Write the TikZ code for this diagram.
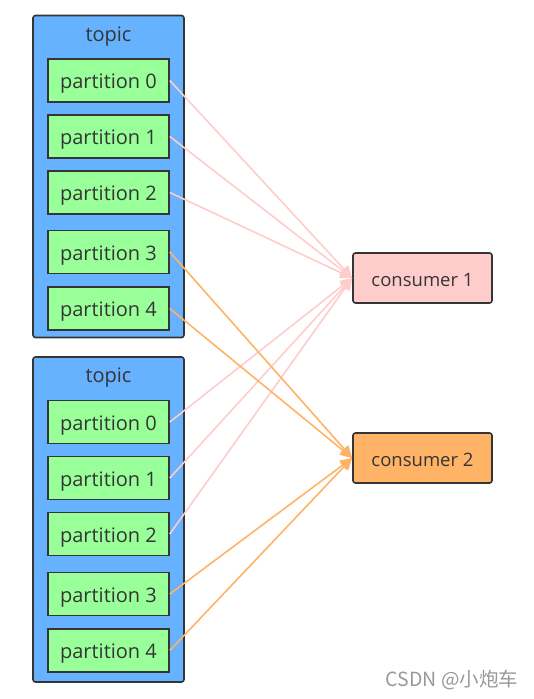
\documentclass[tikz,border=0pt]{standalone}
\usepackage{fontspec}
\setmainfont{Open Sans}
\newfontfamily\cjk{Noto Sans CJK SC}
\usetikzlibrary{arrows.meta}
\definecolor{topicblue}{HTML}{66B2FF}
\definecolor{partgreen}{HTML}{99FF99}
\definecolor{conspink}{HTML}{FFCCCC}
\definecolor{consorange}{HTML}{FFB366}
\definecolor{edgegray}{HTML}{353535}
\begin{document}
\begin{tikzpicture}[x=1pt,y=-1pt,
				every node/.style={text=edgegray,inner sep=0pt},
				topicbox/.style={draw=edgegray,line width=1.6pt,fill=topicblue,rounded corners=2.5pt,minimum width=151pt},
				titletext/.style={font=\fontsize{20}{24}\selectfont,yshift=-3pt},
				partbox/.style={draw=edgegray,line width=1.6pt,fill=partgreen,minimum width=121pt,minimum height=43pt,text height=20pt,text depth=4pt,font=\fontsize{20}{24}\selectfont},
				consbox/.style={draw=edgegray,line width=1.6pt,rounded corners=2.5pt,minimum width=139pt,minimum height=50pt,text height=21pt,text depth=4pt,font=\fontsize{18.5}{22}\selectfont},
				pinkline/.style={draw=conspink,line width=1.6pt,-{Triangle[length=12pt,width=11pt]}},
				orangeline/.style={draw=consorange,line width=1.6pt,-{Triangle[length=12pt,width=11pt]}}]
\useasboundingbox (0,0) rectangle (534,699);
% first topic
\node[topicbox,minimum height=322pt] (t1) at (108.5,176.5) {};
\node[titletext] (t1title) at (108.5,34) {topic};
\node[partbox] (t1p0) at (108.5,80.5) {partition 0};
\node[partbox] (t1p1) at (108.5,136.5) {partition 1};
\node[partbox] (t1p2) at (108.5,192.5) {partition 2};
\node[partbox] (t1p3) at (108.5,252) {partition 3};
\node[partbox] (t1p4) at (108.5,308.5) {partition 4};
% second topic
\node[topicbox,minimum height=325pt] (t2) at (108.5,519.5) {};
\node[titletext] (t2title) at (108.5,375) {topic};
\node[partbox] (t2p0) at (108.5,422) {partition 0};
\node[partbox] (t2p1) at (108.5,478) {partition 1};
\node[partbox] (t2p2) at (108.5,534) {partition 2};
\node[partbox] (t2p3) at (108.5,594) {partition 3};
\node[partbox] (t2p4) at (108.5,650.5) {partition 4};
% consumers
\node[consbox,fill=conspink] (c1) at (422.5,278) {consumer 1};
\node[consbox,fill=consorange] (c2) at (422.5,458) {consumer 2};
% connectors
\draw[pinkline] (t1p0.east) -- (c1.west);
\draw[pinkline] (t1p1.east) -- (c1.west);
\draw[pinkline] (t1p2.east) -- (c1.west);
\draw[pinkline] (t2p0.east) -- (c1.west);
\draw[pinkline] (t2p1.east) -- (c1.west);
\draw[pinkline] (t2p2.east) -- (c1.west);
\draw[orangeline] (t1p3.east) -- (c2.west);
\draw[orangeline] (t1p4.east) -- (c2.west);
\draw[orangeline] (t2p3.east) -- (c2.west);
\draw[orangeline] (t2p4.east) -- (c2.west);
% watermark
\node[text=gray!80,font=\cjk\fontsize{19.5}{24}\selectfont] (mark) at (452,680) {CSDN @小炮车};
\end{tikzpicture}
\end{document}
